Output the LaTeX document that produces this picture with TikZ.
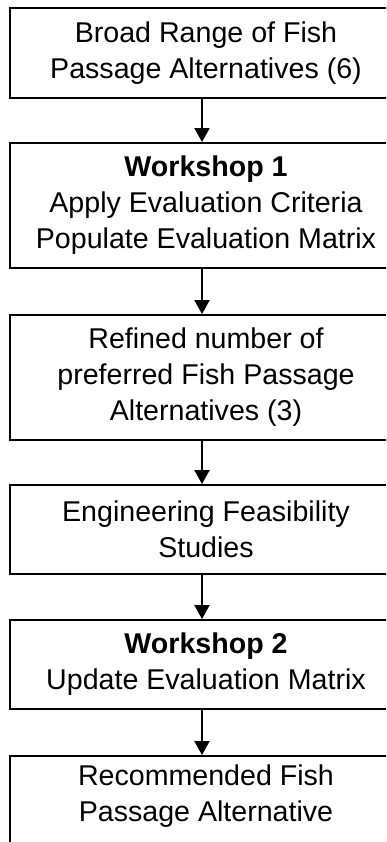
\documentclass[tikz,border=0pt]{standalone}
\usepackage{fontspec}
\setmainfont{Liberation Sans}
\usetikzlibrary{arrows.meta}
\begin{document}
\begin{tikzpicture}[x=1pt,y=-1pt,
  box/.style={draw, line width=1.9pt, rectangle, minimum width=392pt, inner sep=0pt, align=center, font=\fontsize{28.6}{36}\selectfont},
  txt/.style={inner sep=0pt, align=center, font=\fontsize{28.6}{36}\selectfont},
  conn/.style={line width=1.9pt, -{Triangle[width=15pt,length=14pt]}}]
\useasboundingbox (0,0) rectangle (386,842);
\clip (0,0) rectangle (386,842);
\coordinate (ax) at (202,0);
\node[box, minimum height=90pt] (b1) at (206,53) {Broad Range of Fish\\Passage Alternatives (6)};
\node[box, minimum height=125pt] (b2) at (206,205.5) {\textbf{Workshop 1}\\Apply Evaluation Criteria\\Populate Evaluation Matrix};
\node[box, minimum height=125pt] (b3) at (206,377.5) {Refined number of\\preferred Fish Passage\\Alternatives (3)};
\node[box, minimum height=89pt] (b4) at (206,529.5) {Engineering Feasibility\\Studies};
\node[box, minimum height=89pt] (b5) at (206,664.5) {\textbf{Workshop 2}\\Update Evaluation Matrix};
\node[box, minimum height=130pt] (b6) at (206,821) {};
\node[txt] (t6) at (206,796) {Recommended Fish\\Passage Alternative};
\draw[conn] (b1.south -| ax) -- (b2.north -| ax);
\draw[conn] (b2.south -| ax) -- (b3.north -| ax);
\draw[conn] (b3.south -| ax) -- (b4.north -| ax);
\draw[conn] (b4.south -| ax) -- (b5.north -| ax);
\draw[conn] (b5.south -| ax) -- (b6.north -| ax);
\end{tikzpicture}
\end{document}
